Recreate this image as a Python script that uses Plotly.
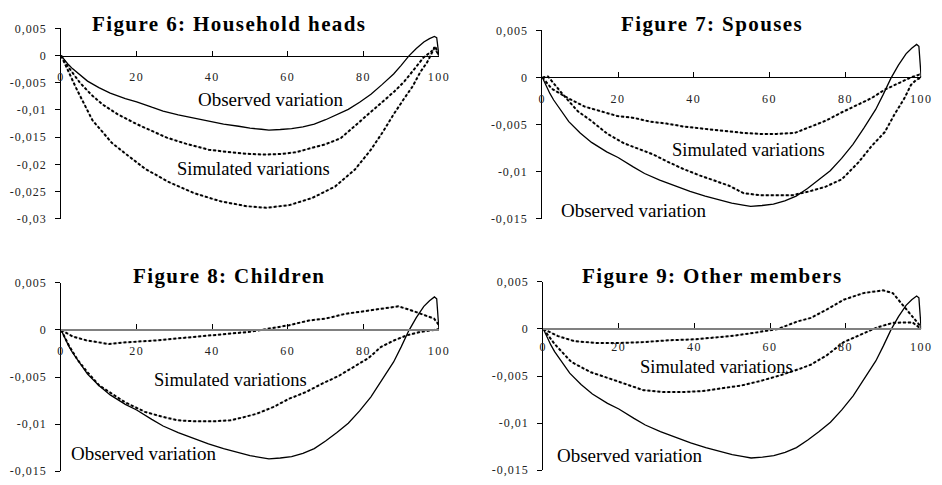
import plotly.graph_objects as go

# ---------------- data ----------------
obs_x = [0, 1, 2, 3, 5, 7, 10, 13, 17, 20, 24, 27, 31, 35, 39, 43, 47, 50, 53, 55, 58, 61, 64, 67,
         70, 73, 76, 79, 82, 85, 88, 90, 92, 94, 96, 97.5, 98.8, 99.4, 100]
obs_y = [0, -0.0009, -0.0017, -0.0024, -0.0036, -0.0047, -0.0059, -0.0069, -0.0079, -0.0085, -0.0095,
         -0.0102, -0.0109, -0.0115, -0.0121, -0.0126, -0.0130, -0.01335, -0.01355, -0.0137, -0.0136,
         -0.01345, -0.0131, -0.0126, -0.0118, -0.0109, -0.0099, -0.0086, -0.0071, -0.0053, -0.0034,
         -0.0018, -0.0001, 0.0013, 0.0025, 0.0031, 0.0035, 0.0033, 0]

heads_a_x = [0, 2, 5, 8, 11, 15, 20, 24, 28, 33, 39, 45, 50, 54, 58, 62, 66, 70, 74, 76, 79.5, 84,
             88.2, 90.8, 94, 96, 98.3, 98.8, 100]
heads_a_y = [0, -0.0022, -0.0050, -0.0072, -0.0090, -0.0108, -0.0126, -0.0138, -0.0151, -0.0162,
             -0.0173, -0.0178, -0.0181, -0.0182, -0.0181, -0.0178, -0.0171, -0.0163, -0.0152, -0.0140,
             -0.0119, -0.0091, -0.0066, -0.0048, -0.0021, -0.0003, 0.0009, 0.0015, 0]
heads_b_x = [0, 4, 8.3, 13.5, 17.9, 22.2, 28.3, 35.2, 42.2, 49.1, 54.3, 60.4, 66.4, 72.5, 77.7, 82,
             85.2, 88, 90.7, 93, 95.1, 96.9, 98.4, 99, 100]
heads_b_y = [0, -0.0060, -0.0119, -0.0161, -0.0185, -0.0208, -0.0232, -0.0253, -0.0268, -0.0277,
             -0.0280, -0.0275, -0.0262, -0.0241, -0.0210, -0.0173, -0.0140, -0.0108, -0.0080, -0.0057,
             -0.0030, -0.0012, 0.0009, 0.0017, 0]

spouses_a_x = [0, 2.5, 6.8, 11.2, 15.5, 19.8, 24.2, 28.5, 32.8, 37.1, 41.5, 45.8, 50.1, 53.2, 57.5,
               61.8, 66.6, 70.5, 74.8, 79.1, 83.5, 86.9, 90.4, 93.8, 97.3, 99.5, 100]
spouses_a_y = [0, -0.0012, -0.0022, -0.0031, -0.0036, -0.0041, -0.0043, -0.0047, -0.0049, -0.0052,
               -0.0054, -0.0056, -0.0058, -0.0059, -0.0060, -0.0060, -0.0059, -0.0053, -0.0046,
               -0.0037, -0.0029, -0.0022, -0.0013, -0.0007, 0.0, 0.0003, 0]
spouses_b_x = [0, 1.5, 5, 9.4, 12.9, 17.2, 21.6, 25.9, 29.4, 32.8, 37.1, 41.5, 44.9, 49.3, 53.2, 57.5,
               61.8, 66.1, 70.5, 74.8, 79.1, 83.5, 86.9, 90.4, 93, 95.6, 97.3, 98.6, 100]
spouses_b_y = [0, 0.0001, -0.0016, -0.0036, -0.0046, -0.0060, -0.0070, -0.0077, -0.0082, -0.0089,
               -0.0097, -0.0104, -0.0109, -0.0115, -0.0123, -0.0125, -0.0125, -0.0125, -0.0121,
               -0.0116, -0.0108, -0.0090, -0.0073, -0.0058, -0.0039, -0.0022, -0.0008, -0.0003, 0]

children_a_x = [0, 3.1, 6.6, 10.1, 12.6, 16.1, 20.5, 25.7, 30.9, 36.1, 40.4, 45.7, 50, 53, 56.1,
                60.4, 65.6, 70, 75.2, 80.4, 84.8, 89.2, 91.8, 95.2, 98.7, 100]
children_a_y = [0, -0.0007, -0.0011, -0.00135, -0.0015, -0.00135, -0.00125, -0.0011, -0.0009,
                -0.0007, -0.00055, -0.0004, -0.0002, 0.0, 0.00024, 0.0005, 0.0010, 0.0012, 0.0017,
                0.0020, 0.0022, 0.0025, 0.0022, 0.0017, 0.0012, 0.0005]
children_b_x = [0, 2, 4.4, 7, 10.1, 13.5, 17, 22.2, 26.6, 30.9, 35.2, 40.4, 44.8, 48, 51.8, 56.1,
                60.4, 64.8, 69.1, 73.4, 77.8, 81.3, 84.7, 88.2, 91.7, 95.2, 98.7, 100]
children_b_y = [0, -0.0016, -0.0032, -0.0045, -0.0059, -0.0068, -0.0077, -0.0087, -0.0092, -0.0096,
                -0.0097, -0.0097, -0.0096, -0.0093, -0.0089, -0.0082, -0.0073, -0.0066, -0.0057,
                -0.0049, -0.0038, -0.0030, -0.0018, -0.0011, -0.00055, -0.0002, 0.0, 0.0001]

others_a_x = [0, 3.9, 8.2, 14.3, 19.5, 26.5, 33.4, 40.4, 45.6, 50.8, 56, 62.1, 67.3, 70.8, 75.2,
              79.5, 84.7, 89.9, 92.5, 96, 100]
others_a_y = [0, -0.00076, -0.0013, -0.0015, -0.0015, -0.0014, -0.0012, -0.0011, -0.0009, -0.0007,
              -0.0004, 0.0, 0.0008, 0.00117, 0.0021, 0.0031, 0.0038, 0.0041, 0.0038, 0.0021, 0.0002]
others_b_x = [0, 3, 7.4, 12.6, 17.8, 23, 26.5, 31.7, 36.9, 42.1, 47.3, 52.5, 57.7, 62.9, 68.1,
              70.8, 75, 79.5, 83.5, 88.2, 92.5, 97.7, 100]
others_b_y = [0, -0.0016, -0.0035, -0.0046, -0.0053, -0.0060, -0.0065, -0.0067, -0.0067, -0.0066,
              -0.0063, -0.0060, -0.0055, -0.0049, -0.0042, -0.0038, -0.0028, -0.0014, -0.0007,
              0.00014, 0.00065, 0.0007, 0]

titles = ["Figure 6: Household heads", "Figure 7: Spouses", "Figure 8: Children", "Figure 9: Other members"]
x_ticks = [0, 20, 40, 60, 80, 100]
y_ticks_heads = [0.005, 0, -0.005, -0.01, -0.015, -0.02, -0.025, -0.03]
y_ticks_other = [0.005, 0, -0.005, -0.01, -0.015]

# ---------------- layout ----------------
W, H = 942, 485
FONT = "Liberation Serif"

panels = [
    dict(box=(58, 442, 22, 218), yr=(-0.03, 0.005), yt=y_ticks_heads, xline="black", xw=1, so=10,
         sims=[(heads_a_x, heads_a_y), (heads_b_x, heads_b_y)],
         title_px=(229, 17), obs_lab=(55.5, -0.0080), sim_lab=(50.8, -0.0209)),
    dict(box=(547, 932, 24, 218), yr=(-0.015, 0.005), yt=y_ticks_other, xline="black", xw=1, so=10,
         sims=[(spouses_a_x, spouses_a_y), (spouses_b_x, spouses_b_y)],
         title_px=(719, 17), obs_lab=(24.2, -0.0141), sim_lab=(54.5, -0.0077)),
    dict(box=(58, 442, 284, 478), yr=(-0.015, 0.005), yt=y_ticks_other, xline="#808080", xw=2, so=10,
         sims=[(children_a_x, children_a_y), (children_b_x, children_b_y)],
         title_px=(229, 277), obs_lab=(21.9, -0.0131), sim_lab=(44.8, -0.0053)),
    dict(box=(548, 932, 283, 477), yr=(-0.015, 0.005), yt=y_ticks_other, xline="#808080", xw=2, so=7,
         sims=[(others_a_x, others_a_y), (others_b_x, others_b_y)],
         title_px=(720, 277), obs_lab=(22.9, -0.0134), sim_lab=(45.8, -0.0040)),
]


def spaced(s, sp):
    return '<span style="letter-spacing:%spx">%s</span>' % (sp, s)


def ylab(v):
    if v == 0:
        return spaced("0", 1.0)
    s = ("%.3f" % v).rstrip("0").rstrip(".").replace(".", ",")
    return spaced(s, 1.0)


fig = go.Figure()
annotations = []
for i, p in enumerate(panels, start=1):
    x0, x1, y0, y1 = p["box"]
    dom_x = [x0 / W, x1 / W]
    dom_y = [1 - y1 / H, 1 - y0 / H]
    xa = "x" if i == 1 else "x%d" % i
    ya = "y" if i == 1 else "y%d" % i
    ymin, ymax = p["yr"]
    pos = dom_y[0] + (0 - ymin) / (ymax - ymin) * (dom_y[1] - dom_y[0])

    fig.layout["xaxis" if i == 1 else "xaxis%d" % i] = dict(
        domain=dom_x, range=[0, 100], anchor="free", position=pos,
        showline=True, linecolor=p["xline"], linewidth=p["xw"],
        tickvals=x_ticks, ticktext=[spaced(str(t), 1.5) for t in x_ticks],
        ticks="inside", ticklen=5, tickcolor="black", tickwidth=1,
        ticklabelstandoff=p["so"], showgrid=False, zeroline=False,
        tickfont=dict(family=FONT, size=12, color="#222"), fixedrange=True,
    )
    fig.layout["yaxis" if i == 1 else "yaxis%d" % i] = dict(
        domain=dom_y, range=[ymin, ymax], anchor=xa,
        showline=True, linecolor="black", linewidth=1,
        tickvals=p["yt"], ticktext=[ylab(v) for v in p["yt"]],
        ticks="outside", ticklen=5, tickcolor="black", tickwidth=1,
        ticklabelstandoff=6, showgrid=False, zeroline=False,
        tickfont=dict(family=FONT, size=12, color="#222"), fixedrange=True,
    )

    for sx, sy in p["sims"]:
        fig.add_trace(go.Scatter(x=sx, y=sy, xaxis=xa, yaxis=ya, mode="lines",
                                 line=dict(color="#9a9a9a", width=0.6), hoverinfo="skip"))
        fig.add_trace(go.Scatter(x=sx, y=sy, xaxis=xa, yaxis=ya, mode="lines",
                                 line=dict(color="black", width=2, dash="3px,2px")))
    fig.add_trace(go.Scatter(x=obs_x, y=obs_y, xaxis=xa, yaxis=ya, mode="lines",
                             line=dict(color="black", width=1.3)))

    tx, ty = p["title_px"]
    annotations.append(dict(text="<b>" + spaced(titles[i - 1], 1.4) + "</b>", xref="paper", yref="paper",
                            x=tx / W, y=1 - ty / H, showarrow=False, xanchor="center", yanchor="middle",
                            font=dict(family=FONT, size=21, color="black")))
    annotations.append(dict(text="Observed variation", xref=xa, yref=ya,
                            x=p["obs_lab"][0], y=p["obs_lab"][1], showarrow=False,
                            xanchor="center", yanchor="middle",
                            font=dict(family=FONT, size=19, color="black")))
    annotations.append(dict(text="Simulated variations", xref=xa, yref=ya,
                            x=p["sim_lab"][0], y=p["sim_lab"][1], showarrow=False,
                            xanchor="center", yanchor="middle",
                            font=dict(family=FONT, size=18.5, color="black")))

fig.update_layout(
    width=W, height=H, margin=dict(l=0, r=0, t=0, b=0), autosize=False,
    paper_bgcolor="white", plot_bgcolor="white", showlegend=False,
    annotations=annotations,
)

post = ("document.documentElement.style.margin='0';document.body.style.margin='0';"
        "document.body.style.padding='0';")
fig.write_html("out.html", post_script=post,
               config={"responsive": False, "displayModeBar": False, "staticPlot": True},
               default_width="%dpx" % W, default_height="%dpx" % H)
